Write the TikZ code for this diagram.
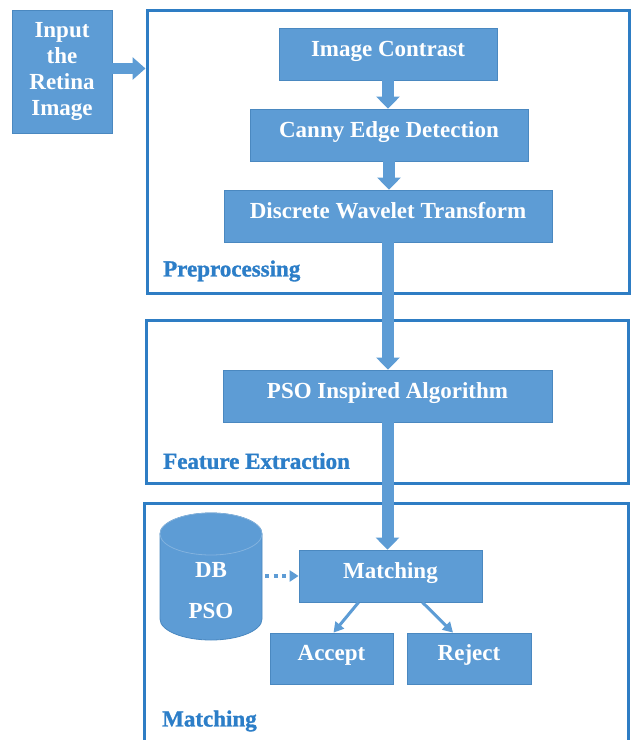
\documentclass[tikz,border=0pt]{standalone}
\usepackage{fontspec}
\setmainfont{Liberation Serif}
\newfontfamily\labfont{Liberation Serif}[BoldFeatures={FakeBold=1.2}]
\usetikzlibrary{arrows.meta}
\definecolor{boxfill}{RGB}{93,156,213}
\definecolor{boxline}{RGB}{74,136,192}
\definecolor{rimc}{RGB}{130,178,222}
\definecolor{framec}{RGB}{46,125,196}
\definecolor{labelc}{RGB}{44,126,200}
\begin{document}
\begin{tikzpicture}[x=1pt,y=-1pt,
  box/.style={draw=boxline, line width=0.8pt, fill=boxfill, text=white,
    font=\fontsize{23}{26}\selectfont\bfseries, inner sep=0pt, align=center},
  onebox/.style={box, text height=15pt, text depth=11pt},
  celltext/.style={text=white, font=\fontsize{23}{26}\selectfont\bfseries, inner sep=0pt},
  frame/.style={draw=framec, line width=3pt, inner sep=0pt},
  lab/.style={text=labelc, font=\fontsize{23}{26}\selectfont\labfont\bfseries, anchor=west, inner sep=0pt},
  fat/.style={draw=boxfill, line width=12pt, -{Triangle[width=23pt,length=12pt]}},
  thinarrow/.style={draw=boxfill, line width=3pt, -{Triangle[width=11pt,length=10pt]}},
  dotarrow/.style={draw=boxfill, line width=3.5pt, dash pattern=on 4pt off 4.5pt, -{Triangle[width=11pt,length=9pt]}}
]
\useasboundingbox (0,0) rectangle (632,740);
\clip (0,0) rectangle (632,740);
\fill[white] (0,0) rectangle (632,740);

% frames
\node[frame, minimum width=482.5pt, minimum height=283pt] (pre) at (388.25,151.5) {};
\node[frame, minimum width=482pt, minimum height=163pt] (feat) at (387,401.5) {};
\node[frame, minimum width=484pt, minimum height=297pt] (matchf) at (386,651.5) {};

\node[lab] (prel) at (163,271) {Preprocessing};
\node[lab] (featl) at (163,461) {Feature Extraction};
\node[lab] (matchl) at (162,721) {Matching};

% boxes
\node[box, minimum width=100pt, minimum height=123pt] (input) at (62,71.5) {Input\\the\\Retina\\Image};
\node[onebox, minimum width=218pt, minimum height=52pt] (ic) at (388,54) {Image Contrast};
\node[onebox, minimum width=278pt, minimum height=52pt] (canny) at (389,135) {Canny Edge Detection};
\node[onebox, minimum width=328pt, minimum height=52pt] (dwt) at (388,216) {Discrete Wavelet Transform};
\node[onebox, minimum width=329pt, minimum height=52pt] (pso) at (387.5,396) {PSO Inspired Algorithm};
\node[onebox, minimum width=183pt, minimum height=52pt] (match) at (390.5,576) {Matching};
\node[onebox, minimum width=123pt, minimum height=51pt] (accept) at (331.5,658.5) {Accept};
\node[onebox, minimum width=124pt, minimum height=51pt] (reject) at (469,658.5) {Reject};

% database cylinder
\fill[boxfill, draw=boxline, line width=0.8pt] (160,534) -- (160,619)
  arc[start angle=180, end angle=0, x radius=51, y radius=21] -- (262,534)
  arc[start angle=360, end angle=180, x radius=51, y radius=21] -- cycle;
\draw[rimc, line width=0.8pt] (211,534) ellipse [x radius=51, y radius=21];
\coordinate (dbe) at (263,576);
\node[celltext] (dbt1) at (211,570) {DB};
\node[celltext] (dbt2) at (211,610.5) {PSO};

% connectors
\draw[fat, line width=11pt, -{Triangle[width=22pt,length=13pt]}] ([yshift=3pt]input.east) -- ([yshift=3pt]input.east -| pre.west);
\draw[fat] (ic.south) -- (ic.south |- canny.north);
\draw[fat] (canny.south) -- (canny.south |- dwt.north);
\draw[fat] (dwt.south) -- (dwt.south |- pso.north);
\draw[fat] (pso.south) -- (pso.south |- match.north);
\draw[dotarrow] ([xshift=2pt]dbe) -- (match.west);
\draw[thinarrow] ([xshift=-32pt]match.south) -- ([xshift=2pt]accept.north);
\draw[thinarrow] ([xshift=32pt]match.south) -- ([xshift=-16pt]reject.north);
\end{tikzpicture}
\end{document}
